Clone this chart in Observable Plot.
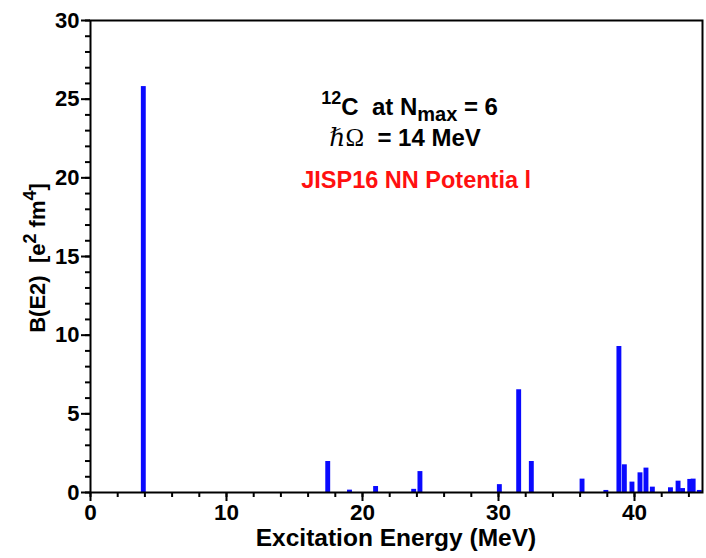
<!DOCTYPE html>
<html>
<head>
<meta charset="utf-8">
<script src="https://cdn.jsdelivr.net/npm/d3@7"></script>
<script src="https://cdn.jsdelivr.net/npm/@observablehq/plot@0.6"></script>
<style>
  html, body { margin: 0; padding: 0; background: #fff; }
  svg { display: block; }
</style>
</head>
<body>
<div id="chart"></div>
<script>
// Excitation energies (MeV) and B(E2) strengths (e^2 fm^4)
const energies = [3.92, 17.48, 19.08, 21.0, 23.8, 24.26, 30.1, 31.52, 32.45, 36.18, 37.93,
                  38.89, 39.29, 39.85, 40.44, 40.88, 41.35, 42.68, 43.24, 43.57, 44.1, 44.35, 44.8];
const be2 = [25.8, 1.97, 0.15, 0.38, 0.2, 1.33, 0.5, 6.53, 1.97, 0.85, 0.13,
             9.28, 1.76, 0.66, 1.25, 1.55, 0.34, 0.3, 0.72, 0.25, 0.83, 0.85, 0.13];
const xMajorTicks = [0, 10, 20, 30, 40];
const xMinorTicks = d3.range(0, 46, 2);
const yMajorTicks = [0, 5, 10, 15, 20, 25, 30];
const yMinorTicks = d3.range(0, 31, 1);
const halfWidth = 0.18; // half bar width in MeV

const data = energies.map((e, i) => ({e, b: be2[i]}));
const font = "'Liberation Sans', Arial, Helvetica, sans-serif";

const chart = Plot.plot({
  width: 706,
  height: 558,
  marginLeft: 90,
  marginRight: 4,
  marginTop: 20,
  marginBottom: 66,
  style: {fontFamily: font, fontWeight: "bold", background: "#fff", color: "#000"},
  x: {domain: [0, 45]},
  y: {domain: [0, 30]},
  marks: [
    Plot.rect(data, {x1: d => d.e - halfWidth, x2: d => d.e + halfWidth, y1: 0, y2: "b", fill: "#0a0aff"}),
    Plot.axisX(xMinorTicks, {tickSize: 5, tickFormat: () => "", label: null, strokeWidth: 2}),
    Plot.axisX(xMajorTicks, {tickSize: 9, tickPadding: 3, label: null, strokeWidth: 2, fontSize: 22.5, fontWeight: "bold"}),
    Plot.axisY(yMinorTicks, {tickSize: 5, tickFormat: () => "", label: null, strokeWidth: 2}),
    Plot.axisY(yMajorTicks, {tickSize: 9, tickPadding: 2, label: null, strokeWidth: 2, fontSize: 22, fontWeight: "bold"}),
    Plot.frame({strokeWidth: 2})
  ]
});

document.getElementById("chart").appendChild(chart);

const svg = d3.select(chart);
const sx = chart.scale("x"), sy = chart.scale("y");

// Axis titles
svg.append("text")
  .attr("x", (sx.apply(0) + sx.apply(45)) / 2)
  .attr("y", 546)
  .attr("text-anchor", "middle")
  .style("font", `bold 24.5px ${font}`)
  .text("Excitation Energy (MeV)");

const yl = svg.append("text")
  .attr("transform", `translate(45,258) rotate(-90)`)
  .attr("text-anchor", "middle")
  .style("font", `bold 22px ${font}`)
  .style("white-space", "pre");
yl.append("tspan").text("B(E2)  [e");
yl.append("tspan").attr("dy", -9).style("font-size", "18px").text("2");
yl.append("tspan").attr("dy", 9).text(" fm");
yl.append("tspan").attr("dy", -9).style("font-size", "18px").text("4");
yl.append("tspan").attr("dy", 9).text("]");

// Annotations (positioned in data coordinates)
const t1 = svg.append("text")
  .attr("x", sx.apply(17.0)).attr("y", sy.apply(23.97))
  .attr("text-anchor", "start")
  .style("font", `bold 24px ${font}`).style("white-space", "pre");
t1.append("tspan").attr("dy", -11).style("font-size", "18px").text("12");
t1.append("tspan").attr("dy", 11).text("C  at N");
t1.append("tspan").attr("dy", 6).style("font-size", "20px").text("max");
t1.append("tspan").attr("dy", -6).text(" = 6");

const t2 = svg.append("text")
  .attr("x", sx.apply(17.6)).attr("y", sy.apply(21.98))
  .attr("text-anchor", "start")
  .style("font", `bold 24px ${font}`).style("white-space", "pre");
t2.append("tspan").style("font", `italic 25px 'Liberation Serif', 'DejaVu Serif', serif`).text("\u210F");
t2.append("tspan").style("font", `25px 'Liberation Serif', 'DejaVu Serif', serif`).text("\u03A9");
t2.append("tspan").text("  = 14 MeV");

svg.append("text")
  .attr("x", sx.apply(15.53)).attr("y", sy.apply(19.31))
  .attr("text-anchor", "start")
  .style("font", `bold 23.5px ${font}`).style("white-space", "pre")
  .attr("fill", "#ff1010")
  .text("JISP16 NN Potentia l");
</script>
</body>
</html>
